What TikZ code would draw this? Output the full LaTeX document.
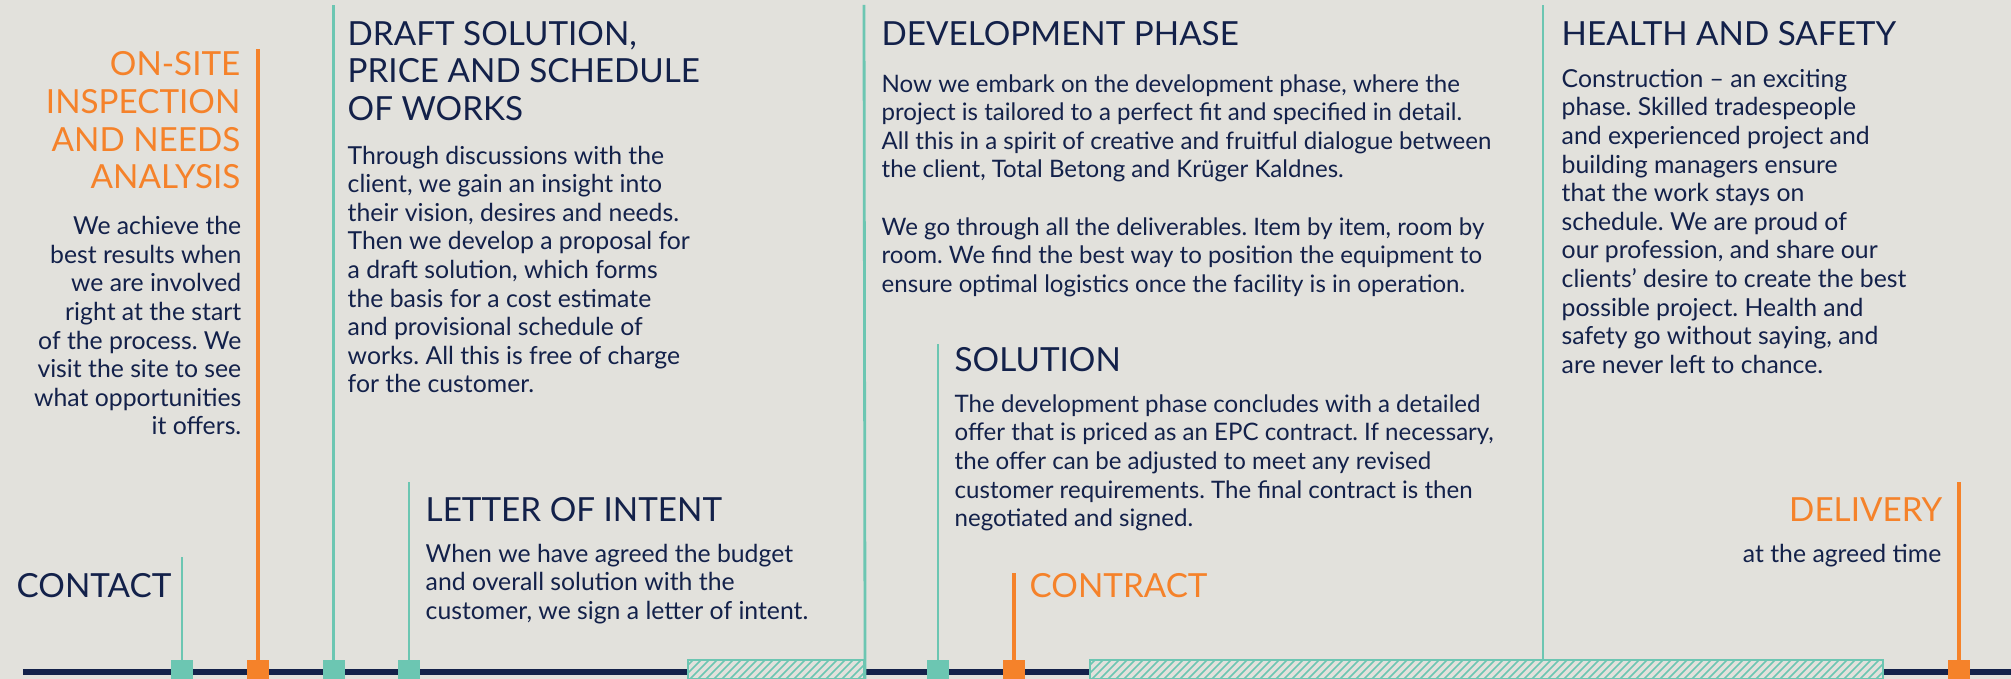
\documentclass[tikz,border=0pt]{standalone}
\usepackage{fontspec}
\setmainfont{Lato}
\usepackage{tikz}
\usetikzlibrary{positioning}
\frenchspacing

\definecolor{paper}{HTML}{E2E1DC}
\definecolor{navy}{HTML}{13214A}
\definecolor{mint}{HTML}{6CC6B2}
\definecolor{orng}{HTML}{F5822A}

\begin{document}
\begin{tikzpicture}
\tikzstyle{head}=[font=\fontsize{9.45}{10.75}\selectfont,text=navy,inner sep=0pt,align=left,anchor=base west];
\tikzstyle{body}=[font=\fontsize{7.05}{8.14}\selectfont,text=navy,inner sep=0pt,align=left,anchor=base west];
\tikzstyle{nbody}=[body,font=\fontsize{6.85}{8.14}\selectfont];
\tikzstyle{rhead}=[head,align=right,anchor=base east];
\tikzstyle{rbody}=[body,align=right,anchor=base east];
\tikzstyle{tickg}=[fill=mint,inner sep=0pt,outer sep=0pt,minimum width=0.22cm,minimum height=0.19cm];
\tikzstyle{ticko}=[tickg,fill=orng];
\tikzstyle{gline}=[mint,line width=0.8pt];
\tikzstyle{oline}=[orng,line width=0.9pt];
\tikzstyle{hatch}=[draw=mint,line width=0.6pt,fill=paper,inner sep=0pt,minimum height=0.19cm,
  path picture={\foreach \k in {0,...,110}
    \draw[mint,line width=0.45pt] ([xshift={\k*0.08cm-0.3cm}]path picture bounding box.south west) -- ++(0.3,0.3);}];

\fill[paper] (0,0) rectangle (20.11,6.79);
\useasboundingbox (0,0) rectangle (20.11,6.79);

% time line
\coordinate (lineStart) at (0.23,0.07);
\coordinate (lineEnd) at (20.11,0.07);
\draw[navy,line width=0.06cm] (lineStart) -- (lineEnd);

\node[hatch,minimum width=1.76cm] (devBar) at (7.76,0.095) {};
\node[hatch,minimum width=7.93cm] (buildBar) at (14.865,0.095) {};

\node[tickg] (mContact) at (1.82,0.095) {};
\node[ticko] (mSite) at (2.58,0.095) {};
\node[tickg] (mDraft) at (3.335,0.095) {};
\node[tickg] (mIntent) at (4.09,0.095) {};
\node[tickg] (mSolution) at (9.38,0.095) {};
\node[ticko] (mContract) at (10.14,0.095) {};
\node[ticko] (mDelivery) at (19.59,0.095) {};

\coordinate (tContact) at (1.82,1.22);
\coordinate (tSite) at (2.58,6.30);
\coordinate (tDraft) at (3.335,6.74);
\coordinate (tIntent) at (4.09,1.97);
\coordinate (tDev) at (8.64,6.74);
\coordinate (tSolution) at (9.38,3.35);
\coordinate (tContract) at (10.14,1.06);
\coordinate (tSafety) at (15.43,6.74);
\coordinate (tDelivery) at (19.59,1.97);

\draw[gline] (mContact) -- (tContact);
\draw[oline] (mSite) -- (tSite);
\draw[gline] (mDraft) -- (tDraft);
\draw[gline] (mIntent) -- (tIntent);
\draw[gline] (devBar.south east) -- (tDev);
\draw[gline] (mSolution) -- (tSolution);
\draw[oline] (mContract) -- (tContract);
\draw[gline] (buildBar.north -| tSafety) -- (tSafety);
\draw[oline] (mDelivery) -- (tDelivery);

% texts (multi-line nodes sit on their last baseline)
\node[head] (contact) at (0.16,0.81) {CONTACT};

\node[rhead,text=orng] (siteHead) at (2.41,4.90) {ON-SITE\\INSPECTION\\AND NEEDS\\ANALYSIS};
\node[rbody] (siteText) at (2.42,2.44) {We achieve the\\best results when\\we are involved\\right at the start\\of the process. We\\visit the site to see\\what opportunities\\it offers.};

\node[head] (draftHead) at (3.47,5.583) {DRAFT SOLUTION,\\PRICE AND SCHEDULE\\OF WORKS};
\node[body] (draftText) at (3.47,2.86) {Through discussions with the\\client, we gain an insight into\\their vision, desires and needs.\\Then we develop a proposal for\\a draft solution, which forms\\the basis for a cost estimate\\and provisional schedule of\\works. All this is free of charge\\for the customer.};

\node[head] (intentHead) at (4.25,1.573) {LETTER OF INTENT};
\node[body] (intentText) at (4.25,0.597) {When we have agreed the budget\\and overall solution with the\\customer, we sign a letter of intent.};

\node[head] (devHead) at (8.81,6.333) {DEVELOPMENT PHASE};
\node[nbody] (devText) at (8.81,3.867) {Now we embark on the development phase, where the\\project is tailored to a perfect fit and specified in detail.\\All this in a spirit of creative and fruitful dialogue between\\the client, Total Betong and Krüger Kaldnes.\\[8.14pt]We go through all the deliverables. Item by item, room by\\room. We find the best way to position the equipment to\\ensure optimal logistics once the facility is in operation.};

\node[head] (solHead) at (9.54,3.073) {SOLUTION};
\node[nbody] (solText) at (9.54,1.523) {The development phase concludes with a detailed\\offer that is priced as an EPC contract. If necessary,\\the offer can be adjusted to meet any revised\\customer requirements. The final contract is then\\negotiated and signed.};

\node[head,text=orng] (contract) at (10.29,0.81) {CONTRACT};

\node[head] (safeHead) at (15.61,6.333) {HEALTH AND SAFETY};
\node[body] (safeText) at (15.61,3.057) {Construction -- an exciting\\phase. Skilled tradespeople\\and experienced project and\\building managers ensure\\that the work stays on\\schedule. We are proud of\\our profession, and share our\\clients' desire to create the best\\possible project. Health and\\safety go without saying, and\\are never left to chance.};

\node[rhead,text=orng] (delivery) at (19.43,1.57) {DELIVERY};
\node[rbody] (agreed) at (19.42,1.16) {at the agreed time};
\end{tikzpicture}
\end{document}
